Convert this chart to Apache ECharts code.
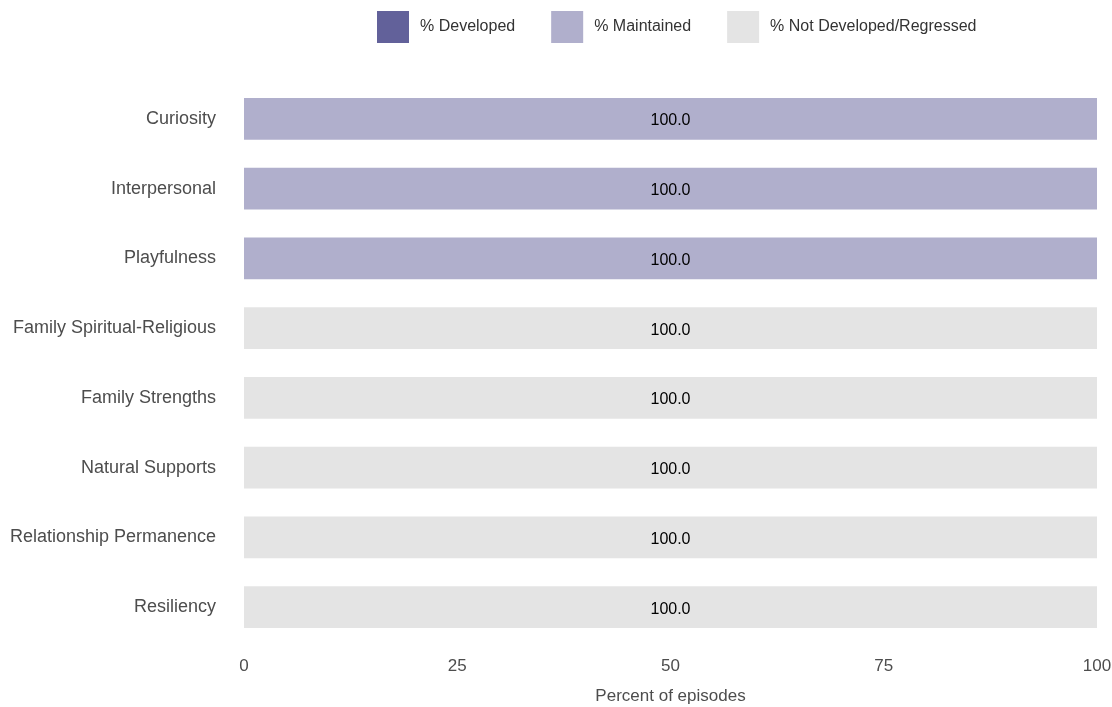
<!DOCTYPE html>
<html>
<head>
<meta charset="utf-8">
<script src="https://cdn.jsdelivr.net/npm/echarts@6/dist/echarts.min.js"></script>
<style>
html,body{margin:0;padding:0;background:#fff;}
#chart{width:1112px;height:707px;}
</style>
</head>
<body>
<div id="chart"></div>
<script>
const categories = ["Curiosity","Interpersonal","Playfulness","Family Spiritual-Religious","Family Strengths","Natural Supports","Relationship Permanence","Resiliency"];
const developed = [0,0,0,0,0,0,0,0];
const maintained = [100,100,100,0,0,0,0,0];
const notDeveloped = [0,0,0,100,100,100,100,100];
const xTicks = [0,25,50,75,100];
const seriesNames = ["% Developed","% Maintained","% Not Developed/Regressed"];
const colors = ["#62619a","#b0afcc","#e4e4e4"];

const FONT = "Liberation Sans, Arial, sans-serif";
const chart = echarts.init(document.getElementById('chart'));
function mk(name, data, color){
  return {
    name, type:'bar', stack:'total', data, barWidth:'60%',
    itemStyle:{color},
    label:{show:true, position:'inside', color:'#000', fontSize:16, fontFamily:FONT, offset:[0,2],
      formatter:p => p.value > 0 ? p.value.toFixed(1) : ''},
    emphasis:{disabled:true}
  };
}
chart.setOption({
  animation:false,
  textStyle:{fontFamily:FONT},
  legend:{
    top:6, left:372, itemWidth:32, itemHeight:32, itemGap:36,
    icon:'rect',
    textStyle:{fontSize:16, color:'#333', fontFamily:FONT, padding:[4,0,0,6]},
    data:seriesNames
  },
  grid:{left:244, right:15, top:84, bottom:65, containLabel:false, outerBoundsMode:'none'},
  xAxis:{
    type:'value', min:0, max:100, interval:25,
    name:'Percent of episodes', nameLocation:'middle', nameGap:46,
    nameTextStyle:{fontSize:17, color:'#4d4d4d', fontFamily:FONT},
    axisLabel:{fontSize:17, color:'#4d4d4d', margin:16, fontFamily:FONT,
      formatter:v => xTicks.includes(v) ? String(v) : ''},
    axisLine:{show:false}, axisTick:{show:false}, splitLine:{show:false}
  },
  yAxis:{
    type:'category', data:categories, inverse:true,
    axisLabel:{fontSize:18, color:'#4d4d4d', margin:28, fontFamily:FONT, padding:[2,0,0,0]},
    axisLine:{show:false}, axisTick:{show:false}, splitLine:{show:false}
  },
  series:[mk(seriesNames[0],developed,colors[0]), mk(seriesNames[1],maintained,colors[1]), mk(seriesNames[2],notDeveloped,colors[2])]
});
</script>
</body>
</html>
